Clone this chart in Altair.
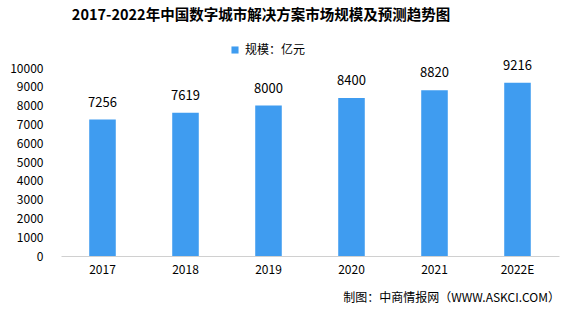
import altair as alt
import pandas as pd

years = ["2017", "2018", "2019", "2020", "2021", "2022E"]
values = [7256, 7619, 8000, 8400, 8820, 9216]
series_name = "规模：亿元"
title_text = "2017-2022年中国数字城市解决方案市场规模及预测趋势图"
source_text = "制图：中商情报网（WWW.ASKCI.COM）"

df = pd.DataFrame({"year": years, "value": values, "series": [series_name] * len(years)})

FONT = "Noto Sans CJK SC"
BLUE = "#3f9cf0"

xenc = alt.X("year:N", sort=years, title=None,
             scale=alt.Scale(paddingInner=0.68, paddingOuter=0.34),
             axis=alt.Axis(labelAngle=0, ticks=False, domainColor="#d0d0d0",
                           labelFont=FONT, labelFontSize=12, labelColor="#000",
                           labelPadding=8))
yenc = alt.Y("value:Q", title=None,
             scale=alt.Scale(domain=[0, 10000]),
             axis=alt.Axis(values=list(range(0, 10001, 1000)), format="d", grid=False,
                           domain=False, ticks=False, labelFont=FONT, labelFontSize=12,
                           labelColor="#000", labelPadding=18))

base = alt.Chart(df).encode(x=xenc, y=yenc)

bars = base.mark_bar(color=BLUE).encode(
    color=alt.Color("series:N", scale=alt.Scale(range=[BLUE]),
                    legend=alt.Legend(title=None, orient="none", legendX=168, legendY=-24,
                                      symbolType="square", symbolSize=50,
                                      labelFont=FONT, labelFontSize=12, labelColor="#000")),
)

labels = base.mark_text(baseline="bottom", dy=-10, font=FONT, fontSize=13, color="#000").encode(
    text="value:Q",
)

source = alt.Chart(pd.DataFrame({"t": [source_text]})).mark_text(
    align="right", baseline="middle", font=FONT, fontSize=12, color="#000"
).encode(x=alt.value(499), y=alt.value(230), text="t:N")

chart = alt.layer(bars, labels, source).properties(
    width=498, height=188,
    autosize=alt.AutoSizeParams(type="none"),
    padding={"left": 61, "top": 68, "right": 15, "bottom": 56},
    title=alt.TitleParams(title_text, anchor="middle", dx=-49, offset=21,
                          font=FONT, fontSize=14.5, fontWeight="bold", color="#000"),
).configure(background="white", view=alt.ViewConfig(stroke=None))

chart.save("out.html", embed_options={"renderer": "svg", "actions": False})
